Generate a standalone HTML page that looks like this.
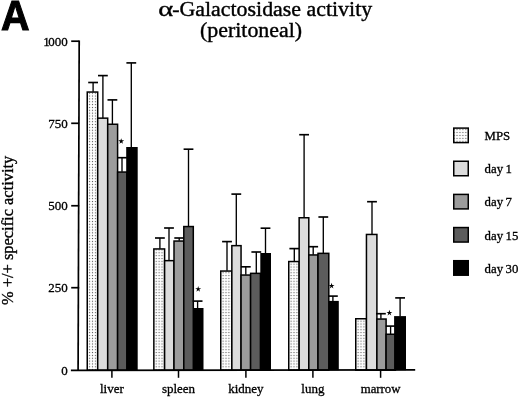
<!DOCTYPE html>
<html><head><meta charset="utf-8"><title>alpha-Galactosidase activity</title>
<style>
html,body{margin:0;padding:0;background:#fff;}
body{width:520px;height:397px;overflow:hidden;}
svg{display:block;will-change:transform;}
.s{font-family:"Liberation Serif",serif;fill:#000;stroke:#000;stroke-width:0.35px;}
.t{stroke-width:0.4px;}
.n{stroke-width:0;}
.l{stroke-width:0.3px;word-spacing:-0.7px;}
.b{font-family:"Liberation Sans",sans-serif;font-weight:bold;fill:#000;}
</style></head><body>
<svg width="520" height="397" viewBox="0 0 520 397">
<defs>
<pattern id="d_liver" x="88.15" y="0.55" width="2.9" height="2.85" patternUnits="userSpaceOnUse"><rect width="2.9" height="2.85" fill="#fff"/><rect x="0.9" y="0.9" width="1.1" height="1.1" fill="#5a5a5a"/></pattern>
<pattern id="d_spleen" x="154.75" y="0.55" width="2.9" height="2.85" patternUnits="userSpaceOnUse"><rect width="2.9" height="2.85" fill="#fff"/><rect x="0.9" y="0.9" width="1.1" height="1.1" fill="#5a5a5a"/></pattern>
<pattern id="d_kidney" x="221.65" y="0.55" width="2.9" height="2.85" patternUnits="userSpaceOnUse"><rect width="2.9" height="2.85" fill="#fff"/><rect x="0.9" y="0.9" width="1.1" height="1.1" fill="#5a5a5a"/></pattern>
<pattern id="d_lung" x="289.65" y="0.55" width="2.9" height="2.85" patternUnits="userSpaceOnUse"><rect width="2.9" height="2.85" fill="#fff"/><rect x="0.9" y="0.9" width="1.1" height="1.1" fill="#5a5a5a"/></pattern>
<pattern id="d_marrow" x="356.65" y="0.55" width="2.9" height="2.85" patternUnits="userSpaceOnUse"><rect width="2.9" height="2.85" fill="#fff"/><rect x="0.9" y="0.9" width="1.1" height="1.1" fill="#5a5a5a"/></pattern>
<pattern id="dots" x="455.55" y="128.15" width="2.95" height="2.93" patternUnits="userSpaceOnUse"><rect width="2.95" height="2.93" fill="#fff"/><rect x="0.9" y="0.9" width="1.1" height="1.1" fill="#5a5a5a"/></pattern>
</defs>
<rect width="520" height="397" fill="#fff"/>
<text transform="translate(1.0 29.6) scale(0.93 1)" font-size="42.5" class="b" stroke="#000" stroke-width="1.1" stroke-linejoin="miter">A</text>
<text transform="translate(158.2 16) scale(1.3 1)" font-size="21.9" class="s t">α</text>
<text x="172.2" y="16" font-size="21.9" class="s t">-Galactosidase activity</text>
<text x="200.0" y="37.4" font-size="21.9" class="s t">(peritoneal)</text>
<text transform="translate(12.6 305.0) rotate(-90)" font-size="16.42" class="s">% +/+ specific activity</text>
<rect x="87.25" y="92.05" width="10.45" height="278.15" fill="url(#d_liver)" stroke="#000" stroke-width="1.5"/>
<path d="M93.10 91.80V82.50" stroke="#000" stroke-width="1.35" fill="none"/><path d="M88.20 82.50H98.00" stroke="#000" stroke-width="1.65" fill="none"/>
<rect x="97.70" y="118.15" width="10.00" height="252.05" fill="#dcdcdc" stroke="#000" stroke-width="1.5"/>
<path d="M102.90 117.90V75.60" stroke="#000" stroke-width="1.35" fill="none"/><path d="M98.00 75.60H107.80" stroke="#000" stroke-width="1.65" fill="none"/>
<rect x="107.70" y="124.25" width="9.90" height="245.95" fill="#9c9c9c" stroke="#000" stroke-width="1.5"/>
<path d="M112.40 124.00V99.90" stroke="#000" stroke-width="1.35" fill="none"/><path d="M107.50 99.90H117.30" stroke="#000" stroke-width="1.65" fill="none"/>
<rect x="117.60" y="172.05" width="9.40" height="198.15" fill="#5c5c5c" stroke="#000" stroke-width="1.5"/>
<path d="M122.00 171.80V157.70" stroke="#000" stroke-width="1.35" fill="none"/><path d="M117.10 157.70H126.90" stroke="#000" stroke-width="1.65" fill="none"/>
<rect x="126.20" y="147.00" width="11.50" height="223.20" fill="#000"/>
<path d="M131.30 147.50V62.90" stroke="#000" stroke-width="1.35" fill="none"/><path d="M126.40 62.90H136.20" stroke="#000" stroke-width="1.65" fill="none"/>
<rect x="153.85" y="248.95" width="10.75" height="121.25" fill="url(#d_spleen)" stroke="#000" stroke-width="1.5"/>
<path d="M159.90 248.70V238.00" stroke="#000" stroke-width="1.35" fill="none"/><path d="M155.00 238.00H164.80" stroke="#000" stroke-width="1.65" fill="none"/>
<rect x="164.60" y="260.65" width="9.40" height="109.55" fill="#dcdcdc" stroke="#000" stroke-width="1.5"/>
<path d="M169.00 260.40V228.00" stroke="#000" stroke-width="1.35" fill="none"/><path d="M164.10 228.00H173.90" stroke="#000" stroke-width="1.65" fill="none"/>
<rect x="174.00" y="241.05" width="9.80" height="129.15" fill="#9c9c9c" stroke="#000" stroke-width="1.5"/>
<path d="M179.20 240.80V238.00" stroke="#000" stroke-width="1.35" fill="none"/><path d="M174.30 238.00H184.10" stroke="#000" stroke-width="1.65" fill="none"/>
<rect x="183.80" y="226.55" width="9.50" height="143.65" fill="#5c5c5c" stroke="#000" stroke-width="1.5"/>
<path d="M188.50 226.30V149.20" stroke="#000" stroke-width="1.35" fill="none"/><path d="M183.60 149.20H193.40" stroke="#000" stroke-width="1.65" fill="none"/>
<rect x="193.00" y="308.00" width="10.50" height="62.20" fill="#000"/>
<path d="M197.60 308.50V301.10" stroke="#000" stroke-width="1.35" fill="none"/><path d="M192.70 301.10H202.50" stroke="#000" stroke-width="1.65" fill="none"/>
<rect x="220.75" y="271.05" width="11.10" height="99.15" fill="url(#d_kidney)" stroke="#000" stroke-width="1.5"/>
<path d="M227.00 270.80V241.60" stroke="#000" stroke-width="1.35" fill="none"/><path d="M222.10 241.60H231.90" stroke="#000" stroke-width="1.65" fill="none"/>
<rect x="231.85" y="245.65" width="9.20" height="124.55" fill="#dcdcdc" stroke="#000" stroke-width="1.5"/>
<path d="M236.30 245.40V194.10" stroke="#000" stroke-width="1.35" fill="none"/><path d="M231.40 194.10H241.20" stroke="#000" stroke-width="1.65" fill="none"/>
<rect x="241.05" y="275.05" width="9.55" height="95.15" fill="#9c9c9c" stroke="#000" stroke-width="1.5"/>
<path d="M245.80 274.80V266.80" stroke="#000" stroke-width="1.35" fill="none"/><path d="M240.90 266.80H250.70" stroke="#000" stroke-width="1.65" fill="none"/>
<rect x="250.60" y="273.35" width="9.80" height="96.85" fill="#5c5c5c" stroke="#000" stroke-width="1.5"/>
<path d="M256.30 273.10V252.00" stroke="#000" stroke-width="1.35" fill="none"/><path d="M251.40 252.00H261.20" stroke="#000" stroke-width="1.65" fill="none"/>
<rect x="260.30" y="253.00" width="10.70" height="117.20" fill="#000"/>
<path d="M265.50 253.50V228.20" stroke="#000" stroke-width="1.35" fill="none"/><path d="M260.60 228.20H270.40" stroke="#000" stroke-width="1.65" fill="none"/>
<rect x="288.75" y="261.55" width="10.40" height="108.65" fill="url(#d_lung)" stroke="#000" stroke-width="1.5"/>
<path d="M294.30 261.30V248.60" stroke="#000" stroke-width="1.35" fill="none"/><path d="M289.40 248.60H299.20" stroke="#000" stroke-width="1.65" fill="none"/>
<rect x="299.15" y="217.75" width="9.65" height="152.45" fill="#dcdcdc" stroke="#000" stroke-width="1.5"/>
<path d="M304.10 217.50V134.70" stroke="#000" stroke-width="1.35" fill="none"/><path d="M299.20 134.70H309.00" stroke="#000" stroke-width="1.65" fill="none"/>
<rect x="308.80" y="254.95" width="9.20" height="115.25" fill="#9c9c9c" stroke="#000" stroke-width="1.5"/>
<path d="M313.20 254.70V246.70" stroke="#000" stroke-width="1.35" fill="none"/><path d="M308.30 246.70H318.10" stroke="#000" stroke-width="1.65" fill="none"/>
<rect x="318.00" y="253.35" width="10.80" height="116.85" fill="#5c5c5c" stroke="#000" stroke-width="1.5"/>
<path d="M323.30 253.10V217.00" stroke="#000" stroke-width="1.35" fill="none"/><path d="M318.40 217.00H328.20" stroke="#000" stroke-width="1.65" fill="none"/>
<rect x="328.50" y="300.90" width="10.30" height="69.30" fill="#000"/>
<path d="M332.90 301.40V296.10" stroke="#000" stroke-width="1.35" fill="none"/><path d="M328.00 296.10H337.80" stroke="#000" stroke-width="1.65" fill="none"/>
<rect x="355.75" y="318.75" width="10.70" height="51.45" fill="url(#d_marrow)" stroke="#000" stroke-width="1.5"/>
<rect x="366.45" y="234.45" width="10.45" height="135.75" fill="#dcdcdc" stroke="#000" stroke-width="1.5"/>
<path d="M372.00 234.20V201.70" stroke="#000" stroke-width="1.35" fill="none"/><path d="M367.10 201.70H376.90" stroke="#000" stroke-width="1.65" fill="none"/>
<rect x="376.90" y="319.05" width="9.20" height="51.15" fill="#9c9c9c" stroke="#000" stroke-width="1.5"/>
<path d="M380.90 318.80V313.70" stroke="#000" stroke-width="1.35" fill="none"/><path d="M376.00 313.70H385.80" stroke="#000" stroke-width="1.65" fill="none"/>
<rect x="386.10" y="334.25" width="9.30" height="35.95" fill="#5c5c5c" stroke="#000" stroke-width="1.5"/>
<path d="M390.60 334.00V326.10" stroke="#000" stroke-width="1.35" fill="none"/><path d="M385.70 326.10H395.50" stroke="#000" stroke-width="1.65" fill="none"/>
<rect x="394.10" y="316.10" width="11.90" height="54.10" fill="#000"/>
<path d="M400.10 316.60V297.90" stroke="#000" stroke-width="1.35" fill="none"/><path d="M395.20 297.90H405.00" stroke="#000" stroke-width="1.65" fill="none"/>
<path d="M79.2 40.4L78.1 371" stroke="#000" stroke-width="1.7" fill="none"/>
<path d="M70.9 370.45L415.2 369.95" stroke="#000" stroke-width="1.7" fill="none"/>
<path d="M71.2 41.2H79.2" stroke="#000" stroke-width="1.7"/>
<path d="M71.2 123.3H79.2" stroke="#000" stroke-width="1.7"/>
<path d="M71.2 205.75H79.2" stroke="#000" stroke-width="1.7"/>
<path d="M71.2 287.7H79.2" stroke="#000" stroke-width="1.7"/>
<path d="M111.9 370V377.8" stroke="#000" stroke-width="1.5"/>
<path d="M178.5 370V377.8" stroke="#000" stroke-width="1.5"/>
<path d="M245.9 370V377.8" stroke="#000" stroke-width="1.5"/>
<path d="M312.9 370V377.8" stroke="#000" stroke-width="1.5"/>
<path d="M380.6 370V377.8" stroke="#000" stroke-width="1.5"/>
<text transform="translate(67.7 45.9) scale(0.97 1)" text-anchor="end" font-size="13.4" class="s l">1<tspan dx="-1.5">000</tspan></text>
<text transform="translate(67.7 128.0) scale(0.97 1)" text-anchor="end" font-size="13.4" class="s l">750</text>
<text transform="translate(67.7 210.4) scale(0.97 1)" text-anchor="end" font-size="13.4" class="s l">500</text>
<text transform="translate(67.7 292.4) scale(0.97 1)" text-anchor="end" font-size="13.4" class="s l">250</text>
<text transform="translate(67.7 375.3) scale(0.97 1)" text-anchor="end" font-size="13.4" class="s l">0</text>
<text x="111.9" y="392.7" text-anchor="middle" font-size="13.0" class="s l">liver</text>
<text x="178.5" y="392.7" text-anchor="middle" font-size="13.0" class="s l">spleen</text>
<text x="245.9" y="392.7" text-anchor="middle" font-size="13.0" class="s l">kidney</text>
<text x="312.9" y="392.7" text-anchor="middle" font-size="13.0" class="s l">lung</text>
<text x="380.6" y="392.7" text-anchor="middle" font-size="12.8" class="s l">marrow</text>
<polygon points="121.20,138.20 121.88,140.37 124.15,140.34 122.29,141.66 123.02,143.81 121.20,142.45 119.38,143.81 120.11,141.66 118.25,140.34 120.52,140.37" fill="#000"/>
<polygon points="198.20,286.10 198.88,288.27 201.15,288.24 199.29,289.56 200.02,291.71 198.20,290.35 196.38,291.71 197.11,289.56 195.25,288.24 197.52,288.27" fill="#000"/>
<polygon points="331.60,282.80 332.28,284.97 334.55,284.94 332.69,286.26 333.42,288.41 331.60,287.05 329.78,288.41 330.51,286.26 328.65,284.94 330.92,284.97" fill="#000"/>
<polygon points="389.40,309.80 390.08,311.97 392.35,311.94 390.49,313.26 391.22,315.41 389.40,314.05 387.58,315.41 388.31,313.26 386.45,311.94 388.72,311.97" fill="#000"/>
<rect x="453.75" y="128.10" width="14.5" height="14.5" fill="url(#dots)" stroke="#000" stroke-width="1.5"/>
<text x="484.6" y="140.05" font-size="12.8" class="s l">MPS</text>
<rect x="453.75" y="161.25" width="14.5" height="14.5" fill="#dcdcdc" stroke="#000" stroke-width="1.5"/>
<text x="484.6" y="173.20" font-size="12.8" class="s l">day 1</text>
<rect x="453.75" y="194.40" width="14.5" height="14.5" fill="#9c9c9c" stroke="#000" stroke-width="1.5"/>
<text x="484.6" y="206.35" font-size="12.8" class="s l">day 7</text>
<rect x="453.75" y="227.55" width="14.5" height="14.5" fill="#5c5c5c" stroke="#000" stroke-width="1.5"/>
<text x="484.6" y="239.50" font-size="12.8" class="s l">day 15</text>
<rect x="453.75" y="260.70" width="14.5" height="14.5" fill="#000" stroke="#000" stroke-width="1.5"/>
<text x="484.6" y="272.65" font-size="12.8" class="s l">day 30</text>
</svg>
</body></html>
